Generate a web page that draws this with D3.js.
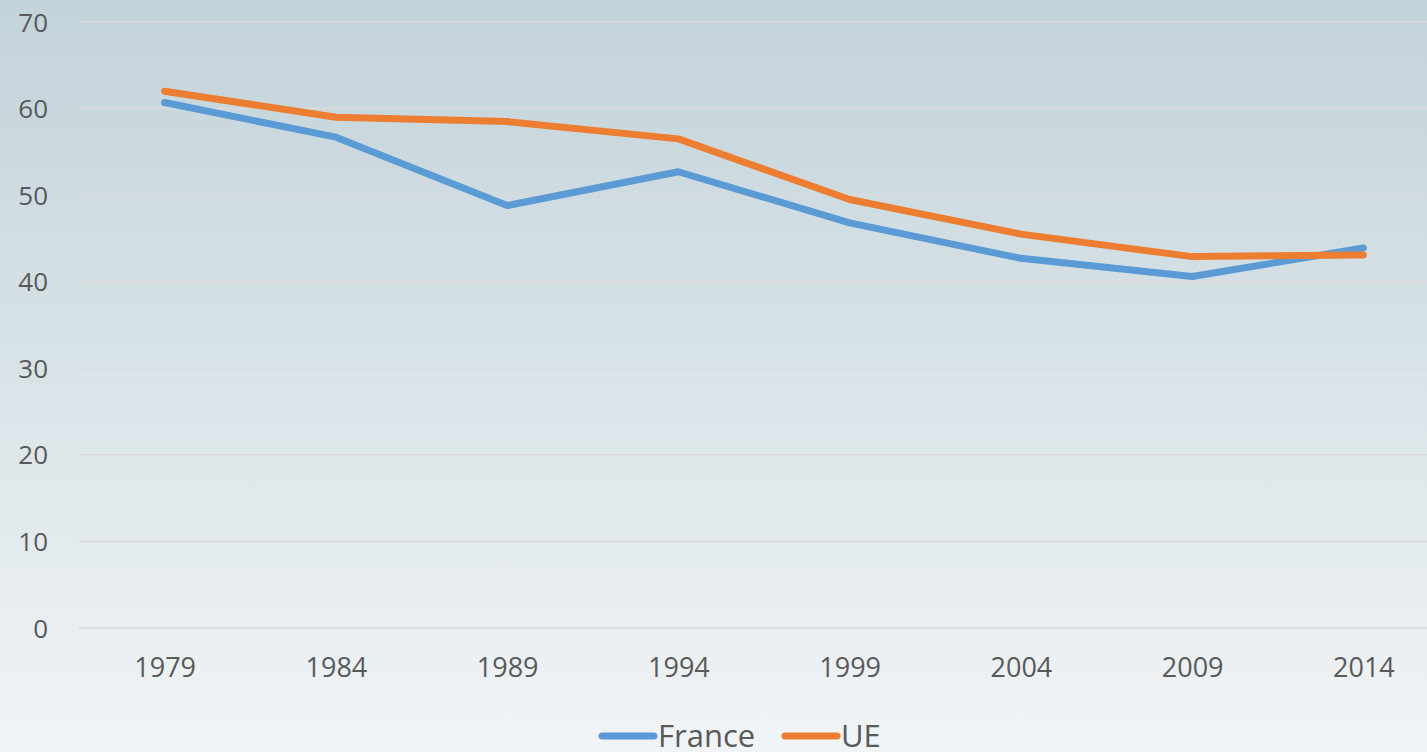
<!DOCTYPE html>
<html>
<head>
<meta charset="utf-8">
<script src="https://d3js.org/d3.v7.min.js"></script>
<style>
  body { margin:0; overflow:hidden; }
  svg { display:block; font-family:"Open Sans","Noto Sans",sans-serif; }
  .tick text { fill:#595959; }
</style>
</head>
<body>
<div id="chart"></div>
<script>
// values
var years=['1979','1984','1989','1994','1999','2004','2009','2014'];
var france=[60.7,56.7,48.8,52.7,46.8,42.7,40.6,43.9];
var ue=[62.0,59.0,58.5,56.5,49.5,45.5,42.9,43.1];
var yTicks=[0,10,20,30,40,50,60,70];

var width=1427, height=752;
var plotLeft=79, plotTop=22, plotBottom=628;
var fontFam='"Open Sans","Noto Sans",sans-serif';

var svg=d3.select('#chart').append('svg')
    .attr('width',width)
    .attr('height',height);

var grad=svg.append('defs').append('linearGradient')
    .attr('id','bg')
    .attr('x1',0).attr('y1',0).attr('x2',0).attr('y2',1);
grad.append('stop').attr('offset','0%').attr('stop-color','#c2d3d9');
grad.append('stop').attr('offset','100%').attr('stop-color','#f1f4f6');

svg.append('rect')
    .attr('width',width)
    .attr('height',height)
    .style('fill','url(#bg)');

var x=d3.scalePoint()
    .domain(years)
    .range([plotLeft,1449])
    .padding(0.5);

var y=d3.scaleLinear()
    .domain([0,70])
    .range([plotBottom,plotTop]);

// gridlines
svg.append('g')
    .selectAll('line').data(yTicks).enter()
    .append('line')
    .attr('x1',plotLeft)
    .attr('x2',width)
    .attr('y1',function(d){ return y(d); })
    .attr('y2',function(d){ return y(d); })
    .style('stroke','#d9d9d9')
    .style('stroke-width',1.5);

// y axis labels
var yAxis=svg.append('g')
    .attr('transform','translate(48,0)')
    .call(d3.axisLeft(y).tickValues(yTicks).tickSize(0).tickPadding(0));
yAxis.select('.domain').remove();
yAxis.attr('font-family',fontFam);
yAxis.selectAll('text').style('font-size','26px').attr('dy','0.35em');

// x axis labels
var xAxis=svg.append('g')
    .attr('transform','translate(0,'+(plotBottom+30)+')')
    .call(d3.axisBottom(x).tickSize(0).tickPadding(0));
xAxis.select('.domain').remove();
xAxis.attr('font-family',fontFam);
xAxis.selectAll('text').style('font-size','27px').attr('dy','0.71em');

var line=d3.line()
    .x(function(d,i){ return x(years[i]); })
    .y(function(d){ return y(d); });

var series=[
    {name:'France',values:france,color:'#5b9bd5'},
    {name:'UE',values:ue,color:'#ed7d31'}
];

series.forEach(function(s){
    svg.append('path')
        .datum(s.values)
        .attr('d',line)
        .style('fill','none')
        .style('stroke',s.color)
        .style('stroke-width',7)
        .style('stroke-linecap','round')
        .style('stroke-linejoin','round');
});

// legend (cut by the bottom edge, as in the original)
var legend=svg.append('g').attr('transform','translate(0,736)');
var lx=[602,785];
series.forEach(function(s,i){
    legend.append('line')
        .attr('x1',lx[i])
        .attr('x2',lx[i]+52)
        .style('stroke',s.color)
        .style('stroke-width',7)
        .style('stroke-linecap','round');
    legend.append('text')
        .attr('x',lx[i]+56)
        .attr('dy','0.36em')
        .style('font-size','31px')
        .style('fill','#595959')
        .text(s.name);
});
</script>
</body>
</html>
